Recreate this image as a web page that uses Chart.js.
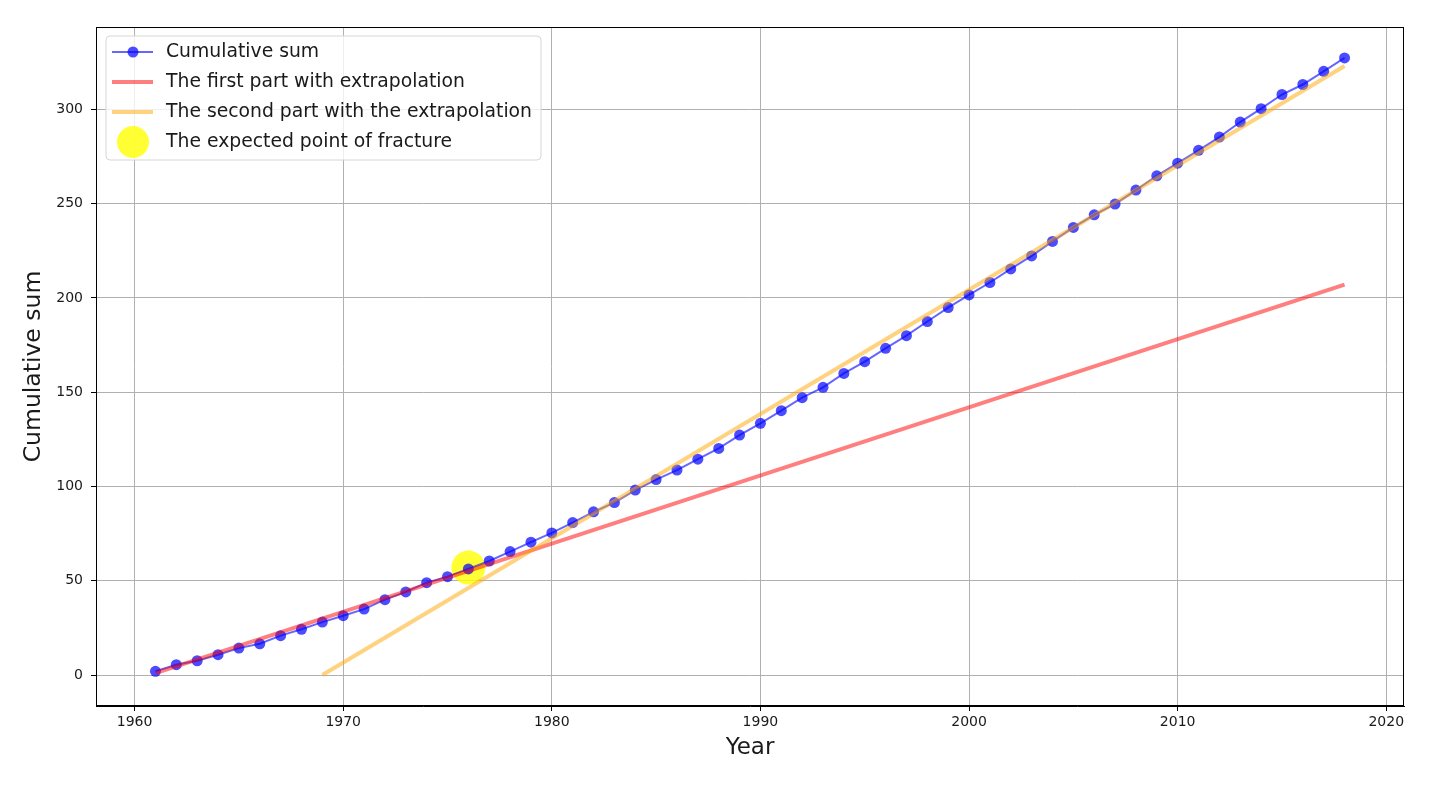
<!DOCTYPE html>
<html>
<head>
<meta charset="utf-8">
<title>Cumulative sum</title>
<script src="https://cdn.jsdelivr.net/npm/chart.js@4"></script>
<style>
  body { margin: 0; background: #fff; }
  canvas { display: block; }
</style>
</head>
<body>
<canvas id="grafica" width="1430" height="787"></canvas>
<script>
// data
const years = [1961, 1962, 1963, 1964, 1965, 1966, 1967, 1968, 1969, 1970,
  1971, 1972, 1973, 1974, 1975, 1976, 1977, 1978, 1979, 1980,
  1981, 1982, 1983, 1984, 1985, 1986, 1987, 1988, 1989, 1990,
  1991, 1992, 1993, 1994, 1995, 1996, 1997, 1998, 1999, 2000,
  2001, 2002, 2003, 2004, 2005, 2006, 2007, 2008, 2009, 2010,
  2011, 2012, 2013, 2014, 2015, 2016, 2017, 2018];
const cumSum = [2.0, 5.5, 7.6, 10.8, 14.3, 16.6, 20.9, 24.3, 28.1, 31.5,
  35.0, 40.0, 44.1, 49.0, 52.2, 56.3, 60.5, 65.5, 70.5, 75.4,
  80.9, 86.6, 91.5, 98.1, 103.7, 108.7, 114.5, 120.2, 127.3, 133.5,
  140.2, 147.1, 152.6, 160.0, 166.2, 173.3, 180.0, 187.5, 194.9, 201.6,
  208.2, 215.4, 222.3, 230.0, 237.4, 244.1, 249.8, 257.2, 264.8, 271.5,
  278.3, 285.3, 293.3, 300.4, 307.9, 313.2, 320.2, 327.3];

const firstPartX = [1961, 2018];
const firstPartY = [1.0, 207.1];
const secondPartX = [1969, 2018];
const secondPartY = [0, 323];
const fractureX = [1976];
const fractureY = [57];

const xTicks = [1960, 1970, 1980, 1990, 2000, 2010, 2020];
const yTicks = [0, 50, 100, 150, 200, 250, 300];

const labels = ["Cumulative sum", "The first part with extrapolation",
  "The second part with the extrapolation", "The expected point of fracture"];

function pares(xs, ys) {
  return xs.map((x, i) => ({ x: x, y: ys[i] }));
}

const FONT = "'DejaVu Sans', sans-serif";

// box round the axes + matplotlib style legend
const marco = {
  id: 'marco',
  afterDraw(chart) {
    const ctx = chart.ctx;
    const a = chart.chartArea;
    ctx.save();
    ctx.strokeStyle = '#000';
    ctx.lineWidth = 1;
    ctx.strokeRect(a.left + 0.5, a.top + 0.5, a.right - a.left - 1, a.bottom - a.top - 1);

    // legend
    const bx = 106, by = 36, bw = 435, bh = 124, r = 4;
    ctx.beginPath();
    ctx.moveTo(bx + r, by);
    ctx.arcTo(bx + bw, by, bx + bw, by + bh, r);
    ctx.arcTo(bx + bw, by + bh, bx, by + bh, r);
    ctx.arcTo(bx, by + bh, bx, by, r);
    ctx.arcTo(bx, by, bx + bw, by, r);
    ctx.closePath();
    ctx.fillStyle = 'rgba(255,255,255,0.8)';
    ctx.fill();
    ctx.strokeStyle = '#d6d6d6';
    ctx.stroke();

    const filas = [52, 82, 112, 142];
    // blue line with marker
    ctx.strokeStyle = 'rgba(0,0,255,0.6)';
    ctx.lineWidth = 2;
    ctx.beginPath(); ctx.moveTo(112, filas[0]); ctx.lineTo(153, filas[0]); ctx.stroke();
    ctx.fillStyle = 'rgba(0,0,255,0.7)';
    ctx.beginPath(); ctx.arc(133, filas[0], 5.5, 0, Math.PI * 2); ctx.fill();
    // red
    ctx.strokeStyle = 'rgba(255,0,0,0.5)';
    ctx.lineWidth = 4;
    ctx.beginPath(); ctx.moveTo(112, filas[1]); ctx.lineTo(153, filas[1]); ctx.stroke();
    // orange
    ctx.strokeStyle = 'rgba(255,165,0,0.5)';
    ctx.beginPath(); ctx.moveTo(112, filas[2]); ctx.lineTo(153, filas[2]); ctx.stroke();
    // yellow
    ctx.fillStyle = 'rgba(255,255,0,0.8)';
    ctx.beginPath(); ctx.arc(133, filas[3], 16, 0, Math.PI * 2); ctx.fill();

    ctx.fillStyle = '#1a1a1a';
    ctx.font = '18.8px ' + FONT;
    ctx.textBaseline = 'middle';
    ctx.textAlign = 'left';
    labels.forEach((t, i) => ctx.fillText(t, 166, filas[i]));
    ctx.restore();
  }
};

const ctx = document.getElementById('grafica');

new Chart(ctx, {
  type: 'line',
  data: {
    datasets: [
      {
        label: labels[0],
        data: pares(years, cumSum),
        borderColor: 'rgba(0,0,255,0.6)',
        borderWidth: 2,
        pointRadius: 5.5,
        pointBackgroundColor: 'rgba(0,0,255,0.7)',
        pointBorderWidth: 0,
        tension: 0,
        order: 2
      },
      {
        label: labels[1],
        data: pares(firstPartX, firstPartY),
        borderColor: 'rgba(255,0,0,0.5)',
        borderWidth: 4,
        pointRadius: 0,
        order: 1
      },
      {
        label: labels[2],
        data: pares(secondPartX, secondPartY),
        borderColor: 'rgba(255,165,0,0.5)',
        borderWidth: 4,
        pointRadius: 0,
        order: 0
      },
      {
        label: labels[3],
        data: pares(fractureX, fractureY),
        showLine: false,
        pointRadius: 17,
        pointBackgroundColor: 'rgba(255,255,0,0.8)',
        pointBorderWidth: 0,
        order: 3
      }
    ]
  },
  options: {
    responsive: false,
    animation: false,
    events: [],
    layout: { padding: { top: 27, right: 26, left: 0, bottom: 0 } },
    plugins: {
      legend: { display: false },
      tooltip: { enabled: false }
    },
    scales: {
      x: {
        type: 'linear',
        min: 1958.15,
        max: 2020.85,
        afterBuildTicks: axis => { axis.ticks = xTicks.map(v => ({ value: v })); },
        afterFit: axis => { axis.height = 81; },
        grid: { color: '#b0b0b0', lineWidth: 1, tickLength: 5, tickColor: '#000' },
        border: { color: '#000' },
        ticks: {
          font: { family: FONT, size: 14 }, color: '#1a1a1a', padding: 3, maxRotation: 0,
          callback: v => String(v)
        },
        title: {
          display: true, text: 'Year', color: '#1a1a1a',
          font: { family: FONT, size: 23 },
          padding: { top: 0, bottom: 25 }
        }
      },
      y: {
        type: 'linear',
        min: -16.4,
        max: 343.7,
        afterBuildTicks: axis => { axis.ticks = yTicks.map(v => ({ value: v })); },
        afterFit: axis => { axis.width = 96; },
        grid: { color: '#b0b0b0', lineWidth: 1, tickLength: 5, tickColor: '#000' },
        border: { color: '#000' },
        ticks: {
          font: { family: FONT, size: 14 }, color: '#1a1a1a', padding: 8,
          callback: v => String(v)
        },
        title: {
          display: true, text: 'Cumulative sum', color: '#1a1a1a',
          font: { family: FONT, size: 23.5 },
          padding: { top: 20, bottom: 0 }
        }
      }
    }
  },
  plugins: [marco]
});
</script>
</body>
</html>
